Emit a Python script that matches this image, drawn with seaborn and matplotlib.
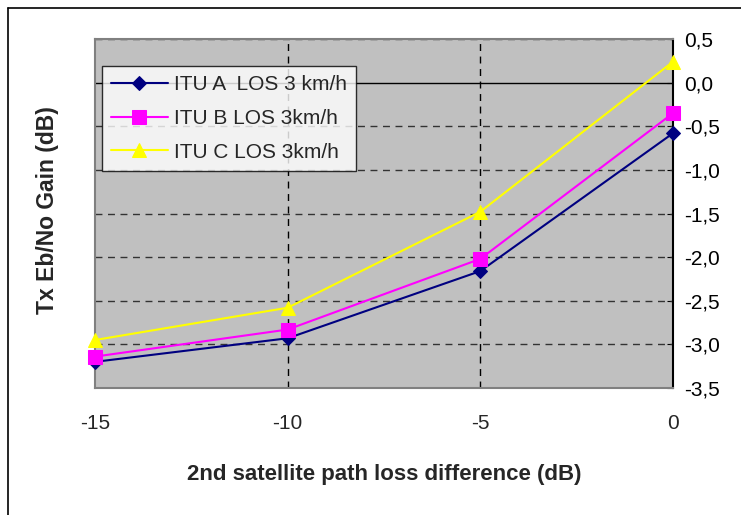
import pandas as pd
import matplotlib.pyplot as plt
import seaborn as sns
from matplotlib.ticker import FuncFormatter, MultipleLocator
from matplotlib.lines import Line2D

# data
path_loss_diff = [-15, -10, -5, 0]
itu_a = [-3.20, -2.93, -2.16, -0.58]
itu_b = [-3.14, -2.83, -2.02, -0.35]
itu_c = [-2.95, -2.58, -1.48, 0.24]
series_names = ["ITU A  LOS 3 km/h", "ITU B LOS 3km/h", "ITU C LOS 3km/h"]

df = pd.DataFrame({
    "x": path_loss_diff * 3,
    "y": itu_a + itu_b + itu_c,
    "series": [series_names[0]] * 4 + [series_names[1]] * 4 + [series_names[2]] * 4,
})

sns.set_style("white")
plt.rcParams['font.family'] = ['Liberation Sans', 'DejaVu Sans']

fig = plt.figure(figsize=(7.41, 5.15), dpi=100)
ax = fig.add_axes([95 / 741, 1 - 388 / 515, (673 - 95) / 741, (388 - 39) / 515])
ax.set_facecolor("#c0c0c0")

palette = {series_names[0]: "#000080", series_names[1]: "#ff00ff", series_names[2]: "#ffff00"}
markers = {series_names[0]: "D", series_names[1]: "s", series_names[2]: "^"}
sizes = {series_names[0]: 7, series_names[1]: 10, series_names[2]: 10}

for name in series_names:
    sub = df[df["series"] == name]
    sns.lineplot(data=sub, x="x", y="y", ax=ax, color=palette[name],
                 marker=markers[name], markersize=sizes[name],
                 markeredgecolor=palette[name], linewidth=1.5,
                 label=name, clip_on=False, zorder=5)

ax.set_xlim(-15, 0)
ax.set_ylim(-3.5, 0.5)
ax.xaxis.set_major_locator(MultipleLocator(5))
ax.yaxis.set_major_locator(MultipleLocator(0.5))
ax.yaxis.tick_right()
ax.yaxis.set_major_formatter(FuncFormatter(lambda v, p: f"{v:.1f}".replace(".", ",")))
ax.xaxis.set_major_formatter(FuncFormatter(lambda v, p: f"{v:.0f}"))
ax.tick_params(axis="y", labelsize=15, length=4, direction="in", pad=8, colors="black")
ax.tick_params(axis="x", labelsize=15, length=0, pad=19)

# gridlines
ax.grid(False)
for yv in [0.5, -0.5, -1.0, -1.5, -2.0, -2.5, -3.0]:
    ax.axhline(yv, color="#333333", linestyle=(0, (5, 4)), linewidth=1, zorder=1)
for xv in [-10, -5]:
    ax.axvline(xv, color="black", linestyle=(0, (5, 4)), linewidth=1, zorder=1)
# category axis crossing at 0
ax.axhline(0, color="black", linewidth=1, zorder=2)

for side in ["left", "top", "bottom"]:
    ax.spines[side].set_color("#808080")
    ax.spines[side].set_linewidth(1.5)
ax.spines["right"].set_color("black")
ax.spines["right"].set_linewidth(1.5)

ax.set_xlabel("2nd satellite path loss difference (dB)", fontsize=16, fontweight="bold", labelpad=22)
ax.set_ylabel("Tx Eb/No Gain (dB)", fontsize=16.5, fontweight="bold")
ax.yaxis.set_label_position("left")
ax.yaxis.set_label_coords(-0.062, 0.51)

leg = ax.legend(loc="upper left", bbox_to_anchor=(0.012, 0.9226), fontsize=15,
                frameon=True, fancybox=False, borderpad=0.45, labelspacing=0.7,
                handlelength=2.7, handletextpad=0.3, borderaxespad=0)
leg.get_frame().set_edgecolor("black")
leg.get_frame().set_facecolor("white")
leg.get_frame().set_linewidth(1)
leg.set_zorder(10)

# outer chart frame
fig.add_artist(Line2D([8 / 741, 8 / 741], [0, 1 - 8 / 515], color="black", linewidth=1.2))
fig.add_artist(Line2D([8 / 741, 1], [1 - 8 / 515, 1 - 8 / 515], color="black", linewidth=1.2))

plt.savefig("out.png", dpi=100)
plt.close()
